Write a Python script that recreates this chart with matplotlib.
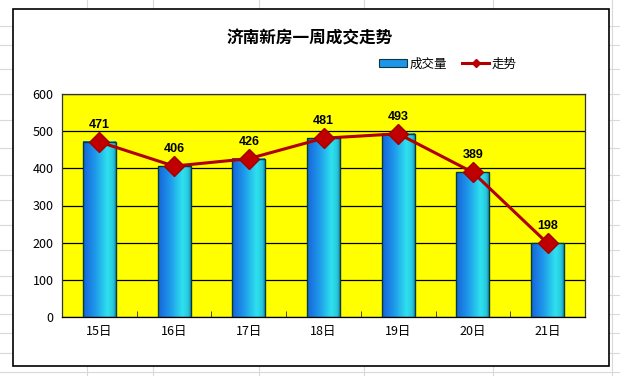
import numpy as np
import matplotlib
matplotlib.use("Agg")
import matplotlib.pyplot as plt
from matplotlib.colors import LinearSegmentedColormap
from matplotlib.patches import Rectangle, Patch
from matplotlib.lines import Line2D

plt.rcParams['font.family'] = ['Noto Sans CJK SC', 'DejaVu Sans']

title = "济南新房一周成交走势"
categories = ["15日", "16日", "17日", "18日", "19日", "20日", "21日"]
volume = [471, 406, 426, 481, 493, 389, 198]
trend = [471, 406, 426, 481, 493, 389, 198]
yticks = [0, 100, 200, 300, 400, 500, 600]
series_names = ["成交量", "走势"]

W, H = 620, 376
fig = plt.figure(figsize=(W / 100, H / 100), dpi=100)
fig.patch.set_facecolor("white")

# spreadsheet background grid
bg = fig.add_axes([0, 0, 1, 1], zorder=-10)
bg.set_xlim(0, W)
bg.set_ylim(H, 0)
bg.axis("off")
for x in [87, 153, 259, 364, 493, 612]:
    bg.plot([x, x], [0, H], color="#d9d9d9", lw=0.8)
for y in [26, 45, 69, 94, 120, 148, 175, 200, 225, 250, 276, 295, 314, 333, 353, 372]:
    bg.plot([0, W], [y, y], color="#d9d9d9", lw=0.8)
bg.add_patch(Rectangle((12.5, 8.5), 596, 357.5, facecolor="white",
                       edgecolor="black", lw=1.2, zorder=5))

ax = fig.add_axes([62 / W, 1 - 317 / H, (585 - 62) / W, (317 - 94) / H], zorder=1)
ax.set_facecolor("#ffff00")
x = np.arange(len(categories))
ax.set_xlim(-0.5, len(categories) - 0.5)
ax.set_ylim(0, 600)
ax.set_yticks(yticks)
ax.yaxis.grid(True, color="black", lw=0.9)
ax.set_axisbelow(True)
for s in ax.spines.values():
    s.set_color("#333333")
    s.set_linewidth(0.9)
ax.spines['bottom'].set_color("black")

ax.set_xticks(x)
ax.set_xticklabels(categories, fontsize=9)
ax.set_xticks(np.arange(-0.5, len(categories), 1.0), minor=True)
ax.tick_params(axis='x', which='major', length=0, pad=6)
ax.tick_params(axis='x', which='minor', length=4, direction='in', color='#333333')
ax.tick_params(axis='y', length=0, labelsize=9, pad=6)

cmap = LinearSegmentedColormap.from_list(
    "barg", [(0.0, "#1565d8"), (0.35, "#1e95ea"), (0.75, "#2ee2ee"),
             (0.92, "#28c8de"), (1.0, "#1a8fb0")])
grad = np.linspace(0, 1, 128).reshape(1, -1)

bw = 0.44
bars = ax.bar(x, volume, width=bw, facecolor="none", edgecolor="#0b3a3a",
              lw=1.0, zorder=3)
for b in bars:
    bx, bwid, bh = b.get_x(), b.get_width(), b.get_height()
    ax.imshow(grad, cmap=cmap, aspect="auto", extent=[bx, bx + bwid, 0, bh],
              zorder=2, interpolation="bicubic")
ax.set_xlim(-0.5, len(categories) - 0.5)
ax.set_ylim(0, 600)

ax.plot(x, trend, color="#b00000", lw=2.2, marker="D", markersize=10,
        markerfacecolor="#c00000", markeredgecolor="#a00000", zorder=4)
for xi, v in zip(x, trend):
    ax.annotate(str(v), (xi, v), xytext=(0, 8), textcoords="offset points",
                ha="center", va="bottom", fontsize=9, fontweight="bold",
                family=["Liberation Sans", "DejaVu Sans"], zorder=5)

fig.text(310 / W, 1 - 38 / H, title, ha="center", va="center",
         fontsize=12, fontweight="bold")

handles = [Patch(facecolor="#1e95ea", edgecolor="#0b3a3a", lw=0.8),
           Line2D([0], [0], color="#b00000", lw=2.2, marker="D", markersize=4,
                  markerfacecolor="#c00000")]
fig.legend(handles, series_names, loc="center", bbox_to_anchor=(448 / W, 1 - 64 / H),
           ncol=2, frameon=False, fontsize=9, handlelength=2.2, handletextpad=0.2,
           columnspacing=1.2, handleheight=0.6)

fig.savefig("out.png", dpi=100)
